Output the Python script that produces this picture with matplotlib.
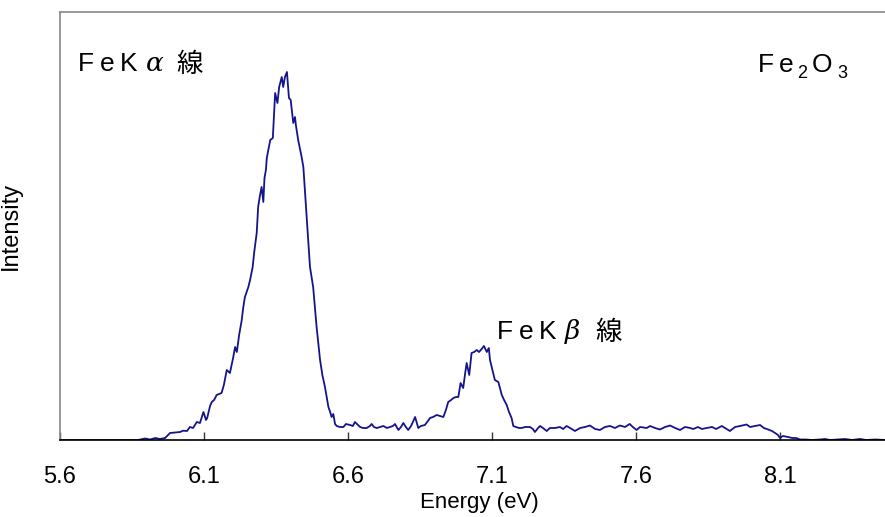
import numpy as np
import matplotlib
matplotlib.use("Agg")
import matplotlib.pyplot as plt

# Fe2O3 fluorescence spectrum, Fe K-alpha / K-beta region
energy = [
    5.600, 5.739, 5.871, 5.895, 5.913, 5.931, 5.947, 5.965, 5.982, 5.999,
    6.017, 6.027, 6.041, 6.051, 6.062, 6.075, 6.086, 6.098, 6.107, 6.111,
    6.121, 6.127, 6.135, 6.144, 6.161, 6.169, 6.179, 6.190, 6.201, 6.208,
    6.214, 6.222, 6.231, 6.236, 6.242, 6.254, 6.260, 6.269, 6.274, 6.283,
    6.288, 6.294, 6.300, 6.306, 6.310, 6.315, 6.318, 6.330, 6.339, 6.347,
    6.355, 6.361, 6.370, 6.375, 6.381, 6.388, 6.395, 6.401, 6.410, 6.416,
    6.419, 6.427, 6.439, 6.445, 6.451, 6.459, 6.468, 6.479, 6.491, 6.503,
    6.511, 6.520, 6.532, 6.538, 6.543, 6.549, 6.555, 6.561, 6.572, 6.584,
    6.593, 6.607, 6.617, 6.624, 6.635, 6.642, 6.652, 6.665, 6.676, 6.682,
    6.690, 6.700, 6.711, 6.723, 6.735, 6.746, 6.756, 6.763, 6.775, 6.784,
    6.792, 6.801, 6.809, 6.819, 6.833, 6.844, 6.853, 6.867, 6.885, 6.895,
    6.908, 6.919, 6.931, 6.940, 6.948, 6.958, 6.966, 6.975, 6.983, 6.991,
    7.000, 7.006, 7.012, 7.021, 7.029, 7.038, 7.047, 7.055, 7.064, 7.072,
    7.082, 7.089, 7.093, 7.099, 7.105, 7.110, 7.122, 7.134, 7.142, 7.151,
    7.159, 7.168, 7.174, 7.183, 7.194, 7.203, 7.215, 7.232, 7.242, 7.249,
    7.260, 7.267, 7.277, 7.290, 7.301, 7.319, 7.336, 7.347, 7.359, 7.371,
    7.388, 7.406, 7.423, 7.440, 7.458, 7.475, 7.492, 7.510, 7.527, 7.544,
    7.562, 7.578, 7.589, 7.602, 7.614, 7.637, 7.649, 7.666, 7.683, 7.701,
    7.718, 7.736, 7.753, 7.770, 7.788, 7.799, 7.815, 7.829, 7.845, 7.864,
    7.878, 7.898, 7.909, 7.926, 7.944, 7.961, 7.984, 7.996, 8.013, 8.031,
    8.044, 8.059, 8.072, 8.083, 8.093, 8.100, 8.110, 8.128, 8.142, 8.156,
    8.169, 8.190, 8.211, 8.239, 8.256, 8.274, 8.301, 8.326, 8.350, 8.378,
    8.399, 8.431, 8.465,
]
intensity = [
    0.0, 0.0, 0.0, 1.5, 0.5, 2.0, 1.0, 2.0, 7.0, 7.5,
    8.0, 9.3, 9.0, 13.0, 12.0, 18.0, 17.0, 28.0, 20.0, 22.0,
    34.0, 38.0, 40.0, 45.0, 47.0, 55.0, 70.0, 67.0, 82.0, 93.0,
    88.0, 105.0, 120.0, 132.0, 143.0, 153.0, 160.0, 173.0, 187.0, 207.0,
    233.0, 244.0, 253.0, 238.0, 262.0, 270.0, 282.0, 300.0, 302.0, 347.0,
    337.0, 353.0, 363.0, 353.0, 363.0, 368.0, 342.0, 340.0, 317.0, 323.0,
    315.0, 300.0, 283.0, 273.0, 247.0, 213.0, 173.0, 153.0, 113.0, 80.0,
    65.0, 53.0, 33.0, 28.0, 23.0, 26.0, 16.0, 14.0, 13.0, 13.0,
    16.0, 15.0, 14.0, 18.0, 15.0, 13.0, 12.0, 12.0, 14.0, 16.0,
    13.0, 12.0, 13.0, 14.0, 12.0, 13.0, 14.0, 16.0, 10.0, 13.0,
    17.0, 13.0, 10.0, 14.0, 23.0, 12.0, 14.0, 15.0, 22.0, 23.0,
    25.0, 24.0, 23.0, 30.0, 38.0, 40.0, 42.0, 43.0, 43.0, 57.0,
    52.0, 65.0, 77.0, 65.0, 87.0, 88.0, 90.0, 88.0, 91.0, 94.0,
    88.0, 92.0, 80.0, 73.0, 66.0, 60.0, 58.0, 45.0, 40.0, 35.0,
    28.0, 22.0, 14.0, 13.0, 12.0, 12.0, 13.0, 13.0, 11.0, 8.0,
    12.0, 14.0, 12.0, 9.0, 12.0, 12.0, 13.0, 11.0, 14.0, 12.0,
    9.0, 12.0, 13.0, 14.5, 11.0, 10.0, 13.0, 14.0, 12.0, 14.5,
    13.0, 16.0, 13.0, 10.0, 13.0, 12.0, 14.0, 12.0, 10.5, 13.0,
    14.5, 12.0, 10.0, 13.0, 12.0, 11.0, 13.0, 11.0, 12.0, 13.0,
    11.0, 14.0, 12.0, 9.0, 13.0, 14.0, 15.5, 13.0, 14.0, 15.0,
    12.0, 10.5, 9.0, 7.0, 5.0, 2.0, 4.0, 3.0, 2.0, 2.0,
    0.5, 0.5, 0.0, 0.5, 1.0, 0.0, 0.5, 1.0, 0.0, 1.0,
    0.0, 0.5, 0.0,
]
xticks = [5.6, 6.1, 6.6, 7.1, 7.6, 8.1]

latin = ["Liberation Sans", "DejaVu Sans"]
cjk = ["Noto Sans CJK JP", "DejaVu Sans"]

fig = plt.figure(figsize=(8.85, 5.17), dpi=100)
ax = fig.add_axes([60 / 885, 77 / 517, 825 / 885, 428 / 517])

ax.plot(energy, intensity, color="#14148c", lw=1.3)

ax.set_xlim(5.6, 5.6 + 825 / 288)
ax.set_ylim(0, 428)

ax.set_xticks(xticks)
ax.set_xticklabels([f"{t:.1f}" for t in xticks], family=latin, fontsize=17)
ax.tick_params(axis="x", direction="in", length=6, width=1, pad=19, color="#333333")
ax.set_yticks([])

ax.spines["right"].set_visible(False)
ax.spines["top"].set_color("#888888")
ax.spines["left"].set_color("#888888")
ax.spines["top"].set_linewidth(1.2)
ax.spines["left"].set_linewidth(1.2)
ax.spines["bottom"].set_color("black")
ax.spines["bottom"].set_linewidth(1.2)

ax.set_xlabel("Energy (eV)", family=latin, fontsize=16)
ax.xaxis.set_label_coords((479 - 60) / 825, -(492 - 440) / 428)
ax.set_ylabel("Intensity", family=latin, fontsize=17)
ax.yaxis.set_label_coords(-(60 - 22) / 825, 0.5)


def px(x, y):
    # pixel position in the figure -> axes fraction
    return (x - 60) / 825, (440 - y) / 428


def put(x, y, s, size=19, **kw):
    kw.setdefault("family", latin)
    ax.text(*px(x, y), s, fontsize=size, transform=ax.transAxes,
            va="baseline", **kw)


def line_label(x0, y0, greek):
    put(x0, y0, "F")
    put(x0 + 22, y0, "e")
    put(x0 + 42, y0, "K")
    put(x0 + 68, y0, greek, family=["DejaVu Serif"], style="italic")
    put(x0 + 98, y0 + 1, "線", family=cjk)


line_label(78, 71, "α")
line_label(497, 339, "β")

put(758, 72, "F")
put(779, 72, "e")
put(797, 78, "2", size=13)
put(812, 72, "O")
put(837, 78, "3", size=13)

fig.savefig("out.png", dpi=100)
